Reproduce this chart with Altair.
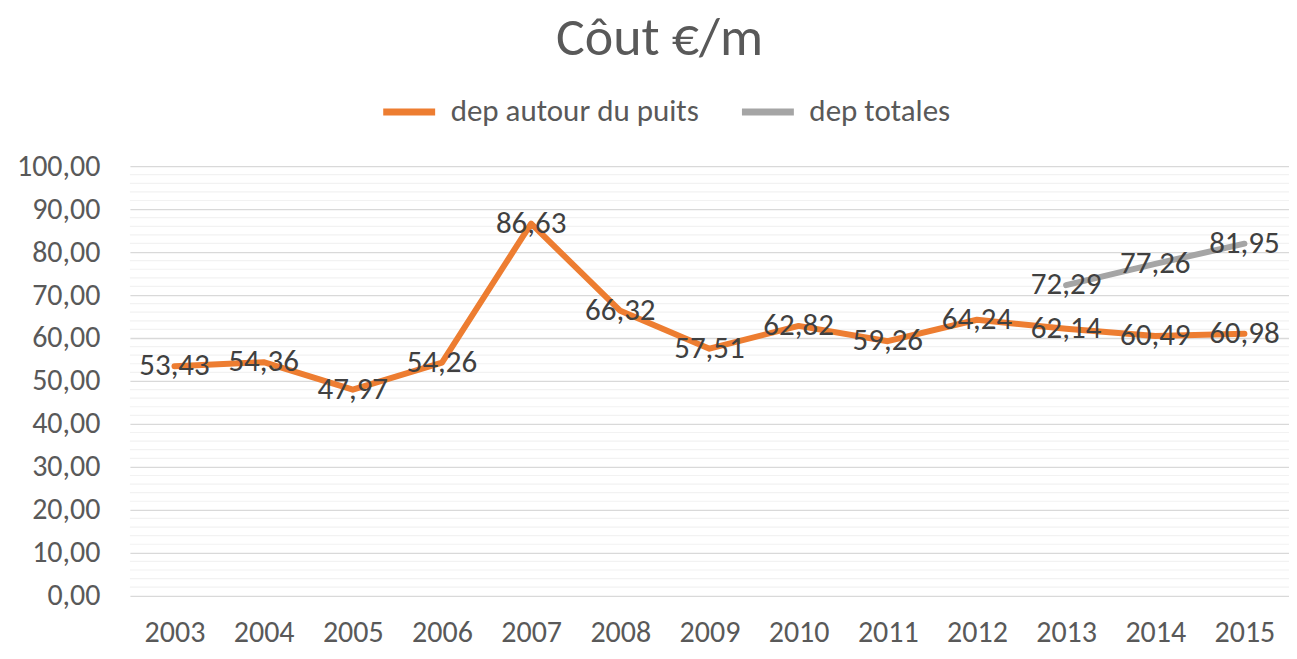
import altair as alt
import pandas as pd

years = ["2003", "2004", "2005", "2006", "2007", "2008", "2009", "2010", "2011", "2012", "2013", "2014", "2015"]
dep_puits = [53.43, 54.36, 47.97, 54.26, 86.63, 66.32, 57.51, 62.82, 59.26, 64.24, 62.14, 60.49, 60.98]
tot_years = ["2013", "2014", "2015"]
dep_totales = [72.29, 77.26, 81.95]
major_ticks = [0, 10, 20, 30, 40, 50, 60, 70, 80, 90, 100]
minor_ticks = [v for v in range(2, 100, 2) if v % 10 != 0]

S1 = "dep autour du puits"
S2 = "dep totales"
FONT = "Carlito, Lato, sans-serif"

df = pd.DataFrame(
    [{"year": y, "value": v, "serie": S1} for y, v in zip(years, dep_puits)]
    + [{"year": y, "value": v, "serie": S2} for y, v in zip(tot_years, dep_totales)]
)
minor_df = pd.DataFrame({"v": minor_ticks})

xenc = alt.X("year:N", sort=years, title=None,
             scale=alt.Scale(paddingInner=0, paddingOuter=0.5),
             axis=alt.Axis(labelAngle=0, labelFontSize=30, labelColor="#595959",
                           labelFont=FONT, ticks=False, domain=False, labelPadding=22))
yscale = alt.Scale(domain=[0, 100], nice=False)

minor = alt.Chart(minor_df).mark_rule(color="#F2F2F2", strokeWidth=1.2).encode(
    y=alt.Y("v:Q", scale=yscale)
)

lines = alt.Chart(df).mark_line(strokeWidth=6, strokeCap="round", strokeJoin="round").encode(
    x=xenc,
    y=alt.Y("value:Q", scale=yscale, title=None,
            axis=alt.Axis(values=major_ticks, labelFontSize=30, labelColor="#595959",
                          labelFont=FONT, ticks=False, domain=False, labelPadding=30,
                          gridColor="#D9D9D9", gridWidth=1.3,
                          labelExpr="replace(format(datum.value, '.2f'), '.', ',')")),
    color=alt.Color("serie:N", scale=alt.Scale(domain=[S1, S2], range=["#ED7D31", "#A5A5A5"]),
                    legend=alt.Legend(title=None, orient="none", legendX=250, legendY=-84,
                                      direction="horizontal", symbolType="stroke",
                                      symbolStrokeWidth=7, symbolSize=2700,
                                      labelFontSize=31, labelColor="#595959", labelFont=FONT,
                                      labelLimit=500, columnPadding=28, labelOffset=12)),
    detail="serie:N",
)

labels = alt.Chart(df).mark_text(fontSize=31, color="#404040", font=FONT).transform_calculate(
    lab="replace(format(datum.value, '.2f'), '.', ',')"
).encode(
    x=alt.X("year:N", sort=years),
    y=alt.Y("value:Q", scale=yscale),
    text="lab:N",
)

chart = alt.layer(minor, lines, labels).properties(
    width=1160, height=430,
    autosize=alt.AutoSizeParams(type="none"),
    padding={"left": 122, "top": 158, "right": 0, "bottom": 54},
    title=alt.TitleParams("Côut €/m", fontSize=54, font=FONT, color="#595959",
                          fontWeight="normal", anchor="middle", dx=-50, offset=16),
).configure_view(stroke=None)

chart.save("out.html", embed_options={"renderer": "svg", "actions": False})
